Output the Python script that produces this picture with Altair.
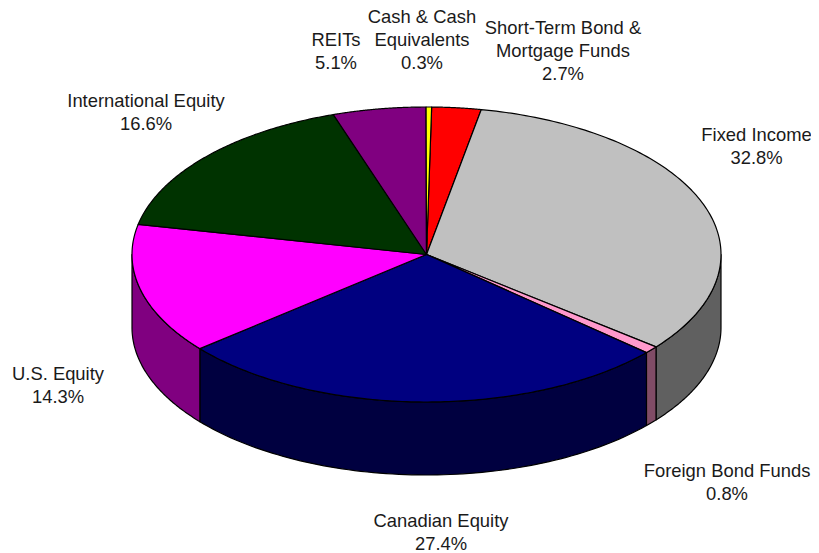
import numpy as np
import pandas as pd
import altair as alt

names = ["Short-Term Bond &\nMortgage Funds", "Fixed Income", "Foreign Bond Funds", "Canadian Equity",
         "U.S. Equity", "International Equity", "REITs", "Cash & Cash\nEquivalents"]
shares = [2.7, 32.8, 0.8, 27.4, 14.3, 16.6, 5.1, 0.3]
top_colors = ["#ff0000", "#c0c0c0", "#ff99cc", "#000080", "#ff00ff", "#003300", "#800080", "#ffff00"]
side_colors = ["#800000", "#606060", "#804c66", "#000040", "#800080", "#001a00", "#400040", "#808000"]
label_x = [563, 756.5, 727, 441, 58, 146, 336, 422]
label_y = [28, 135, 471, 521, 374, 101, 40, 17]

W, H = 803, 545
CX, CY, RX, RY, DEPTH = 418.5, 246.5, 294.5, 147.5, 73
START = np.radians(1.0)

def px(t):
    return CX + RX * np.sin(t)

def py(t):
    return CY - RY * np.cos(t)

edges = START + np.radians(np.concatenate([[0], np.cumsum(shares)]) * 3.6 * 100 / sum(shares))
x_scale = alt.Scale(domain=[0, W], range=[0, W], nice=False, zero=False)
y_scale = alt.Scale(domain=[0, H], range=[0, H], nice=False, zero=False)

def poly(xs, ys, color, width=1.2):
    df = pd.DataFrame({"x": xs, "y": ys, "i": np.arange(len(xs))})
    return alt.Chart(df).mark_line(
        fill=color, stroke="#000000", strokeWidth=width, interpolate="linear-closed", strokeJoin="round"
    ).encode(
        x=alt.X("x:Q", scale=x_scale, axis=None),
        y=alt.Y("y:Q", scale=y_scale, axis=None),
        order=alt.Order("i:Q"),
    )

layers = []
# side walls (only the part of each slice on the front half of the disc)
for k in range(len(shares)):
    a, b = max(edges[k], np.pi / 2), min(edges[k + 1], 3 * np.pi / 2)
    if b <= a:
        continue
    t = np.linspace(a, b, 80)
    xs = np.concatenate([px(t), px(t[::-1])])
    ys = np.concatenate([py(t), py(t[::-1]) + DEPTH])
    layers.append(poly(xs, ys, side_colors[k]))
# top faces
for k in range(len(shares)):
    t = np.linspace(edges[k], edges[k + 1], 120)
    xs = np.concatenate([[CX], px(t)])
    ys = np.concatenate([[CY], py(t)])
    layers.append(poly(xs, ys, top_colors[k]))

labels = pd.DataFrame({
    "text": [f"{n}\n{v}%" for n, v in zip(names, shares)],
    "x": [v - 8 for v in label_x],
    "y": [v - 8 for v in label_y],
})
text = alt.Chart(labels).mark_text(
    font="Liberation Sans", fontSize=18.4, lineBreak="\n", lineHeight=23,
    align="center", baseline="middle", color="#1a1a1a"
).encode(
    x=alt.X("x:Q", scale=x_scale, axis=None),
    y=alt.Y("y:Q", scale=y_scale, axis=None),
    text="text:N",
)
layers.append(text)

chart = alt.layer(*layers).properties(
    width=W, height=H, padding=0, autosize=alt.AutoSizeParams(type="none"),
    background="#ffffff",
).configure_view(stroke=None)
chart.save("out.html", embed_options={"renderer": "svg", "actions": False})
